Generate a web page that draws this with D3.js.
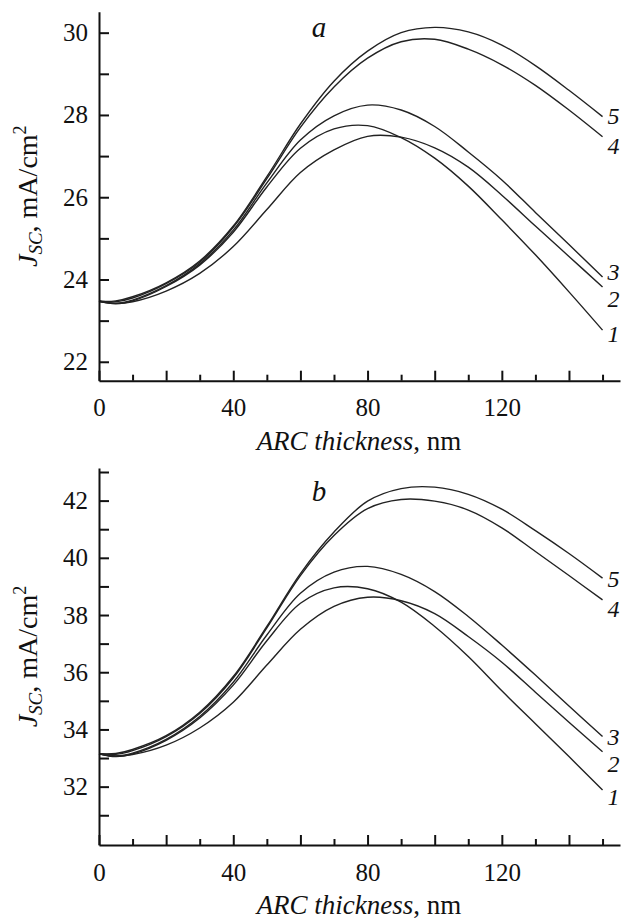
<!DOCTYPE html>
<html>
<head>
<meta charset="utf-8">
<script src="https://cdn.jsdelivr.net/npm/d3@7"></script>
<style>
  body { margin: 0; background: #fff; }
  svg text { font-family: "Liberation Serif", "Times New Roman", serif; fill: #111; }
</style>
</head>
<body>
<div id="chart"></div>
<script>
// ARC thickness, nm
var thickness = [ 0, 5, 10, 20, 30, 40, 50, 60, 70, 80, 90, 100, 110, 120, 130, 140, 150 ];

// panel a, J_SC in mA/cm2, curves 1..5
var jscA1 = [ 23.47, 23.41, 23.48, 23.83, 24.35, 25.15, 26.25, 27.19, 27.66, 27.74, 27.45, 26.95, 26.27, 25.45, 24.60, 23.70, 22.77 ];
var jscA2 = [ 23.47, 23.42, 23.46, 23.72, 24.15, 24.80, 25.70, 26.60, 27.15, 27.48, 27.46, 27.20, 26.73, 26.05, 25.30, 24.56, 23.82 ];
var jscA3 = [ 23.47, 23.42, 23.50, 23.85, 24.38, 25.20, 26.35, 27.39, 27.98, 28.24, 28.12, 27.72, 27.10, 26.42, 25.63, 24.85, 24.06 ];
var jscA4 = [ 23.47, 23.46, 23.55, 23.90, 24.42, 25.27, 26.45, 27.70, 28.68, 29.38, 29.78, 29.84, 29.60, 29.22, 28.72, 28.12, 27.47 ];
var jscA5 = [ 23.47, 23.48, 23.58, 23.92, 24.45, 25.30, 26.50, 27.78, 28.82, 29.55, 30.00, 30.13, 30.02, 29.70, 29.20, 28.60, 27.96 ];

// panel b
var jscB1 = [ 33.15, 33.05, 33.14, 33.62, 34.40, 35.55, 37.10, 38.41, 38.95, 38.92, 38.45, 37.60, 36.55, 35.35, 34.20, 33.05, 31.88 ];
var jscB2 = [ 33.15, 33.07, 33.12, 33.45, 34.05, 34.95, 36.25, 37.50, 38.30, 38.62, 38.50, 38.05, 37.25, 36.35, 35.30, 34.25, 33.22 ];
var jscB3 = [ 33.15, 33.07, 33.17, 33.65, 34.45, 35.65, 37.30, 38.76, 39.50, 39.70, 39.42, 38.82, 37.95, 36.95, 35.90, 34.82, 33.75 ];
var jscB4 = [ 33.15, 33.13, 33.26, 33.75, 34.56, 35.80, 37.55, 39.38, 40.78, 41.72, 42.04, 41.98, 41.67, 41.05, 40.22, 39.38, 38.53 ];
var jscB5 = [ 33.15, 33.16, 33.30, 33.78, 34.60, 35.85, 37.60, 39.45, 40.90, 41.98, 42.42, 42.47, 42.22, 41.70, 40.95, 40.15, 39.29 ];

var curveNames = [ '1', '2', '3', '4', '5' ];
var xTickLabels = [ 0, 40, 80, 120 ];
var yTicksA = d3.range( 22, 31 );
var yTicksB = d3.range( 31, 44 );

var chart = ( function() {

  var width = 624, height = 919;
  var svg;

  var xScale = d3.scaleLinear().domain( [ 0, 155.2 ] ).range( [ 99, 620 ] );

  var line = d3.line()
    .x( d => xScale( d[ 0 ] ) )
    .y( d => d[ 1 ] )
    .curve( d3.curveCatmullRom.alpha( 0.5 ) );

  function drawPanel( p ) {

    var yScale = d3.scaleLinear().domain( p.yDomain ).range( p.yRange );
    var x0 = xScale.range()[ 0 ], y0 = p.yRange[ 0 ];

    var g = svg.append( 'g' ).attr( 'class', 'panel-' + p.name );

    // curves + their number at the right end
    p.series.forEach( ( s, i ) => {
      var pts = thickness.map( ( t, j ) => [ t, yScale( s[ j ] ) ] );
      g.append( 'path' )
        .attr( 'd', line( pts ) )
        .attr( 'fill', 'none' )
        .attr( 'stroke', '#222' )
        .attr( 'stroke-width', 1.4 );

      g.append( 'text' )
        .attr( 'x', xScale( thickness[ thickness.length - 1 ] ) + 5 )
        .attr( 'y', yScale( s[ s.length - 1 ] ) + p.labelDy[ i ] )
        .attr( 'font-size', 24 )
        .attr( 'font-style', 'italic' )
        .text( curveNames[ i ] );
    } );

    // y axis, ticks point inward
    var yAxis = g.append( 'g' )
      .attr( 'transform', 'translate(' + x0 + ',0)' )
      .call( d3.axisLeft( yScale )
        .tickValues( p.yTicks )
        .tickSizeInner( -10 )
        .tickSizeOuter( 0 )
        .tickPadding( 11 )
        .tickFormat( d => d % 2 === 0 ? d : '' ) );

    // x axis: short ticks at odd tens, long ticks every 20
    var xMinor = g.append( 'g' )
      .attr( 'transform', 'translate(0,' + y0 + ')' )
      .call( d3.axisBottom( xScale )
        .tickValues( d3.range( 10, 151, 20 ) )
        .tickSizeInner( -6 )
        .tickSizeOuter( 0 )
        .tickFormat( '' ) );

    var xMajor = g.append( 'g' )
      .attr( 'transform', 'translate(0,' + y0 + ')' )
      .call( d3.axisBottom( xScale )
        .tickValues( d3.range( 0, 141, 20 ) )
        .tickSizeInner( -10 )
        .tickSizeOuter( 0 )
        .tickPadding( 18 )
        .tickFormat( d => xTickLabels.includes( d ) ? d : '' ) );
    xMajor.select( '.domain' ).remove();

    [ yAxis, xMinor, xMajor ].forEach( a => {
      a.attr( 'font-family', null ).attr( 'font-size', null );
      a.selectAll( 'path, line' ).attr( 'stroke', '#111' ).attr( 'stroke-width', 2 );
      a.selectAll( 'text' ).attr( 'font-size', 25 ).attr( 'fill', '#111' );
    } );

    // axis titles
    var xt = g.append( 'text' )
      .attr( 'x', 359 )
      .attr( 'y', y0 + 69 )
      .attr( 'text-anchor', 'middle' )
      .attr( 'font-size', 27 );
    xt.append( 'tspan' ).attr( 'font-style', 'italic' ).text( 'ARC thickness' );
    xt.append( 'tspan' ).text( ', nm' );

    var yMid = ( p.yRange[ 0 ] + p.yRange[ 1 ] ) / 2;
    var yt = g.append( 'text' )
      .attr( 'transform', 'translate(36.5,' + yMid + ') rotate(-90)' )
      .attr( 'text-anchor', 'middle' )
      .attr( 'font-size', 28 );
    yt.append( 'tspan' ).attr( 'font-style', 'italic' ).text( 'J' );
    yt.append( 'tspan' ).attr( 'font-style', 'italic' ).attr( 'font-size', 19 ).attr( 'dy', 5 ).text( 'SC' );
    yt.append( 'tspan' ).attr( 'dy', -5 ).text( ', mA/cm' );
    yt.append( 'tspan' ).attr( 'font-size', 18 ).attr( 'dy', -11 ).text( '2' );

    // panel letter
    g.append( 'text' )
      .attr( 'x', 319 )
      .attr( 'y', p.letterY )
      .attr( 'text-anchor', 'middle' )
      .attr( 'font-size', 29 )
      .attr( 'font-style', 'italic' )
      .text( p.name );
  }

  function draw() {
    d3.select( '#chart' ).html( '' );
    svg = d3.select( '#chart' ).append( 'svg' )
      .attr( 'width', width )
      .attr( 'height', height );

    drawPanel( {
      name: 'a',
      yDomain: [ 21.54, 30.51 ],
      yRange: [ 380.7, 11.7 ],
      yTicks: yTicksA,
      series: [ jscA1, jscA2, jscA3, jscA4, jscA5 ],
      labelDy: [ 12, 20, 3, 17, 7 ],
      letterY: 37
    } );

    drawPanel( {
      name: 'b',
      yDomain: [ 29.96, 43.14 ],
      yRange: [ 845, 468 ],
      yTicks: yTicksB,
      series: [ jscB1, jscB2, jscB3, jscB4, jscB5 ],
      labelDy: [ 15, 20, 8, 17, 9 ],
      letterY: 501
    } );
  }

  return { draw: draw };
} )();

chart.draw();
</script>
</body>
</html>
